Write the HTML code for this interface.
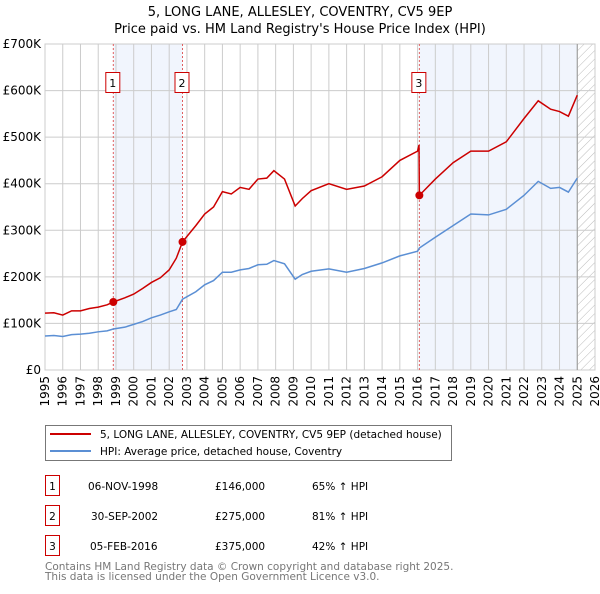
<!DOCTYPE html>
<html><head><meta charset="utf-8"><style>
body{margin:0;background:#fff;font-family:"DejaVu Sans","Liberation Sans",sans-serif;}
svg text{font-family:"DejaVu Sans","Liberation Sans",sans-serif;}
</style></head><body>
<svg id="c" width="600" height="590" xmlns="http://www.w3.org/2000/svg">
<defs><pattern id="h" width="6" height="6" patternUnits="userSpaceOnUse" patternTransform="rotate(45)"><line x1="0" y1="0" x2="0" y2="6" stroke="#bbb" stroke-width="1"/></pattern></defs>
<text x="300" y="16" text-anchor="middle" font-size="13">5, LONG LANE, ALLESLEY, COVENTRY, CV5 9EP</text>
<text x="300" y="33" text-anchor="middle" font-size="13">Price paid vs. HM Land Registry's House Price Index (HPI)</text>
<g id="plot"></g>
<g>
<rect x="45.5" y="425.5" width="406" height="35" fill="#fff" stroke="#777"/>
<line x1="50" y1="434" x2="91" y2="434" stroke="#cc0000" stroke-width="2"/>
<text x="100" y="438" font-size="10.5">5, LONG LANE, ALLESLEY, COVENTRY, CV5 9EP (detached house)</text>
<line x1="50" y1="451" x2="91" y2="451" stroke="#5b8fd4" stroke-width="2"/>
<text x="100" y="455" font-size="10.5">HPI: Average price, detached house, Coventry</text>
</g>
<g font-size="10.5">
<rect x="45.5" y="475.5" width="14" height="20" fill="#fff" stroke="#cc0000"/><text x="52.5" y="490" text-anchor="middle">1</text>
<text x="88" y="490">06-NOV-1998</text><text x="215" y="490">£146,000</text><text x="312" y="490">65% ↑ HPI</text>
<rect x="45.5" y="505.5" width="14" height="20" fill="#fff" stroke="#cc0000"/><text x="52.5" y="520" text-anchor="middle">2</text>
<text x="91" y="520">30-SEP-2002</text><text x="215" y="520">£275,000</text><text x="312" y="520">81% ↑ HPI</text>
<rect x="45.5" y="535.5" width="14" height="20" fill="#fff" stroke="#cc0000"/><text x="52.5" y="550" text-anchor="middle">3</text>
<text x="90" y="550">05-FEB-2016</text><text x="215" y="550">£375,000</text><text x="312" y="550">42% ↑ HPI</text>
</g>
<text x="45" y="570" font-size="10.5" fill="#777">Contains HM Land Registry data © Crown copyright and database right 2025.</text>
<text x="45" y="580" font-size="10.5" fill="#777">This data is licensed under the Open Government Licence v3.0.</text>
</svg>
<script>
const yTicks=[0,100,200,300,400,500,600,700];
const yTickLabels=["£0","£100K","£200K","£300K","£400K","£500K","£600K","£700K"];
const xYears=[1995,1996,1997,1998,1999,2000,2001,2002,2003,2004,2005,2006,2007,2008,2009,2010,2011,2012,2013,2014,2015,2016,2017,2018,2019,2020,2021,2022,2023,2024,2025,2026];
const hpiT=[1995,1995.5,1996,1996.5,1997,1997.5,1998,1998.5,1998.85,1999.5,2000,2000.5,2001,2001.5,2002,2002.4,2002.75,2003.5,2004,2004.5,2005,2005.5,2006,2006.5,2007,2007.5,2007.9,2008.5,2009.1,2009.5,2010,2011,2012,2013,2014,2015,2016,2016.1,2017,2018,2019,2020,2021,2022,2022.8,2023.5,2024,2024.5,2025];
const hpiV=[73,74,72,76,77,79,82,84,88,92,98,104,112,118,125,130,152,168,183,192,210,210,215,218,226,227,235,228,195,205,212,217,210,218,230,245,255,262,285,310,335,333,345,375,405,390,392,382,412];
const priceT=[1995,1995.5,1996,1996.5,1997,1997.5,1998,1998.5,1998.85,1999.5,2000,2000.5,2001,2001.5,2002,2002.4,2002.75,2003.5,2004,2004.5,2005,2005.5,2006,2006.5,2007,2007.5,2007.9,2008.5,2009.1,2009.5,2010,2011,2012,2013,2014,2015,2016,2016.08,2016.1,2017,2018,2019,2020,2021,2022,2022.8,2023.5,2024,2024.5,2025];
const priceV=[122,123,118,127,127,132,135,140,146,155,163,175,188,198,215,240,275,310,335,350,383,378,392,388,410,412,428,410,352,368,385,400,388,395,415,450,470,483,375,410,445,470,470,490,540,578,560,555,545,590];
const saleT=[1998.85,2002.75,2016.1];
const saleV=[146,275,375];
const saleLabels=["1","2","3"];
const X0=45,X1=595,Y0=370,Y1=44;
const x=t=>X0+(t-1995)/(2026-1995)*(X1-X0);
const y=v=>Y0-v/700*(Y0-Y1);
const NS="http://www.w3.org/2000/svg";
const g=document.getElementById('plot');
function mk(tag,attrs,parent){const e=document.createElementNS(NS,tag);for(const k in attrs)e.setAttribute(k,attrs[k]);(parent||g).appendChild(e);return e;}
let r=mk('rect',{x:x(saleT[0]),y:Y1,width:x(saleT[1])-x(saleT[0]),height:Y0-Y1,fill:'#eef3fd',opacity:0.8});


r=mk('rect',{x:x(saleT[2]),y:Y1,width:x(2025)-x(saleT[2]),height:Y0-Y1,fill:'#eef3fd',opacity:0.8});


r=mk('rect',{x:x(2025),y:Y1,width:X1-x(2025),height:Y0-Y1,fill:'url(#h)'});


yTicks.forEach((v,i)=>{
 let l=mk('line',{x1:X0,x2:X1,y1:y(v),y2:y(v),stroke:'#ccc'});
 
 
 let t=mk('text',{x:X0-4,y:y(v)+4,'text-anchor':'end','font-size':'12'});
 t.textContent=yTickLabels[i];
 
 
});
xYears.forEach(yr=>{
 let l=mk('line',{x1:x(yr),x2:x(yr),y1:Y1,y2:Y0,stroke:'#ccc'});
 
 
 let t=mk('text',{x:0,y:0,'text-anchor':'end','font-size':'12',transform:`translate(${x(yr)+4},${Y0+6}) rotate(-90)`});
 t.textContent=yr;
 
 
});
let b=mk('rect',{x:X0,y:Y1,width:X1-X0,height:Y0-Y1,fill:'none',stroke:'#ccc'});


let v2=mk('line',{x1:x(2025),x2:x(2025),y1:Y1,y2:Y0,stroke:'#999'});


saleT.forEach((t,i)=>{
 let l=mk('line',{x1:x(t),x2:x(t),y1:Y1,y2:Y0,stroke:'#e06060','stroke-dasharray':'2,2'});
 
 
});
let p=mk('polyline',{points:hpiT.map((t,i)=>x(t)+','+y(hpiV[i])).join(' '),fill:'none',stroke:'#5b8fd4','stroke-width':1.5});


p=mk('polyline',{points:priceT.map((t,i)=>x(t)+','+y(priceV[i])).join(' '),fill:'none',stroke:'#cc0000','stroke-width':1.5});


saleT.forEach((t,i)=>{
 let c=mk('circle',{cx:x(t),cy:y(saleV[i]),r:4,fill:'#cc0000'});
 
 
 let bx=mk('rect',{x:x(t)-7.5,y:72.5,width:14,height:20,fill:'#fff',stroke:'#cc0000'});
 
 
 let tx=mk('text',{x:x(t)-0.5,y:87,'text-anchor':'middle','font-size':'11'});
 tx.textContent=saleLabels[i];
 
 
});
</script>
</body></html>
